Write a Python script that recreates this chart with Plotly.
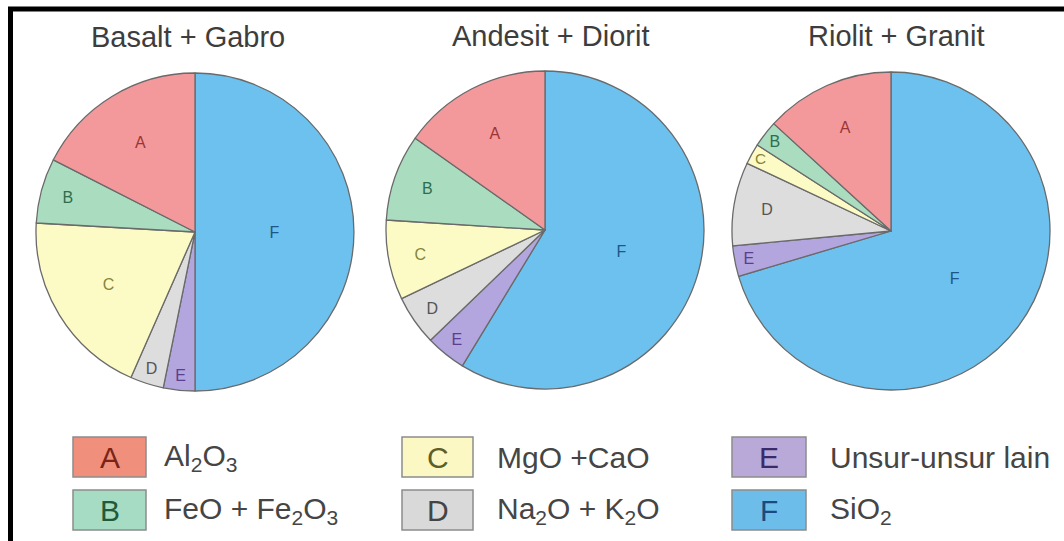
import plotly.graph_objects as go

W, H = 1064, 541

# ---------------- data ----------------
codes = ["A", "B", "C", "D", "E", "F"]
components = ["Al<sub>2</sub>O<sub>3</sub>", "FeO + Fe<sub>2</sub>O<sub>3</sub>", "MgO +CaO",
              "Na<sub>2</sub>O + K<sub>2</sub>O", "Unsur-unsur lain", "SiO<sub>2</sub>"]
rock_titles = ["Basalt + Gabro", "Andesit + Diorit", "Riolit + Granit"]
basalt_gabro = [17.5, 6.6, 19.3, 3.4, 3.2, 50.0]
andesit_diorit = [15.2, 8.8, 8.1, 5.1, 4.1, 58.7]
riolit_granit = [13.2, 2.7, 2.1, 8.5, 3.1, 70.4]
series = [basalt_gabro, andesit_diorit, riolit_granit]

# ---------------- styles ----------------
slice_colors = ["#f4999b", "#aadcc0", "#fdfbc5", "#dddddd", "#b3a5dd", "#6dc1ee"]
box_colors = ["#f0907c", "#a6dcc4", "#fbf8c4", "#d9d9d9", "#b8a9d9", "#6cbdea"]
letter_colors = ["#9b3535", "#2e6e4e", "#85853a", "#555555", "#5b3f8f", "#1d5787"]
box_letter_colors = ["#7a2418", "#1f5a3a", "#5e5e28", "#444444", "#3a2a6a", "#1a4a80"]

pie_centers = [(195, 232), (545, 230), (891, 231)]
pie_r = 159

fig = go.Figure()
for vals, (cx, cy) in zip(series, pie_centers):
    # A starts at 12 o'clock and the slices run counterclockwise:
    # drawn as the reversed order running clockwise from 12 o'clock.
    fig.add_trace(go.Pie(
        labels=codes[::-1], values=vals[::-1], sort=False, direction="clockwise", rotation=0,
        textinfo="label", textposition="inside", insidetextorientation="horizontal",
        textfont=dict(family="Liberation Sans", size=16, color=letter_colors[::-1]),
        marker=dict(colors=slice_colors[::-1], line=dict(color="#6a6a6a", width=1.3)),
        domain=dict(x=[(cx - pie_r) / W, (cx + pie_r) / W],
                    y=[1 - (cy + pie_r) / H, 1 - (cy - pie_r) / H]),
        showlegend=False, hoverinfo="label+percent",
    ))

annotations = []
title_pos = [(188, 37), (550, 36), (896, 36)]
for t, (tx, ty) in zip(rock_titles, title_pos):
    annotations.append(dict(text=t, x=tx / W, y=1 - ty / H, xref="paper", yref="paper",
                            showarrow=False, xanchor="center", yanchor="middle",
                            font=dict(family="Liberation Sans", size=29, color="#3d3d3d")))

shapes = []
# legend layout: 3 columns x 2 rows
col_box_x = [(73, 146), (402, 473), (732, 806)]
col_text_x = [162, 495, 828]
row_box_y = [(437, 477), (490, 530)]
for i, (code, comp) in enumerate(zip(codes, components)):
    col, row = i // 2, i % 2
    x0, x1 = col_box_x[col]
    y0, y1 = row_box_y[row]
    shapes.append(dict(type="rect", xref="paper", yref="paper",
                       x0=x0 / W, x1=x1 / W, y0=1 - y1 / H, y1=1 - y0 / H,
                       fillcolor=box_colors[i], line=dict(color="#8c8c8c", width=1.5)))
    annotations.append(dict(text=code, x=(x0 + x1) / 2 / W, y=1 - (y0 + y1) / 2 / H,
                            xref="paper", yref="paper", showarrow=False,
                            xanchor="center", yanchor="middle",
                            font=dict(family="Liberation Sans", size=30, color=box_letter_colors[i])))
    annotations.append(dict(text=comp, x=col_text_x[col] / W, y=1 - (y0 + y1) / 2 / H,
                            xref="paper", yref="paper", showarrow=False,
                            xanchor="left", yanchor="middle",
                            font=dict(family="Liberation Sans", size=30, color="#454545")))

# frame (left and top edges)
shapes.append(dict(type="path", xref="paper", yref="paper",
                   path=f"M {10.5 / W} 0 L {10.5 / W} {1 - 9 / H} L 1 {1 - 9 / H}",
                   line=dict(color="black", width=5)))

fig.update_layout(width=W, height=H, margin=dict(l=0, r=0, t=0, b=0),
                  paper_bgcolor="white", plot_bgcolor="white",
                  annotations=annotations, shapes=shapes)

fig.write_html("out.html")
